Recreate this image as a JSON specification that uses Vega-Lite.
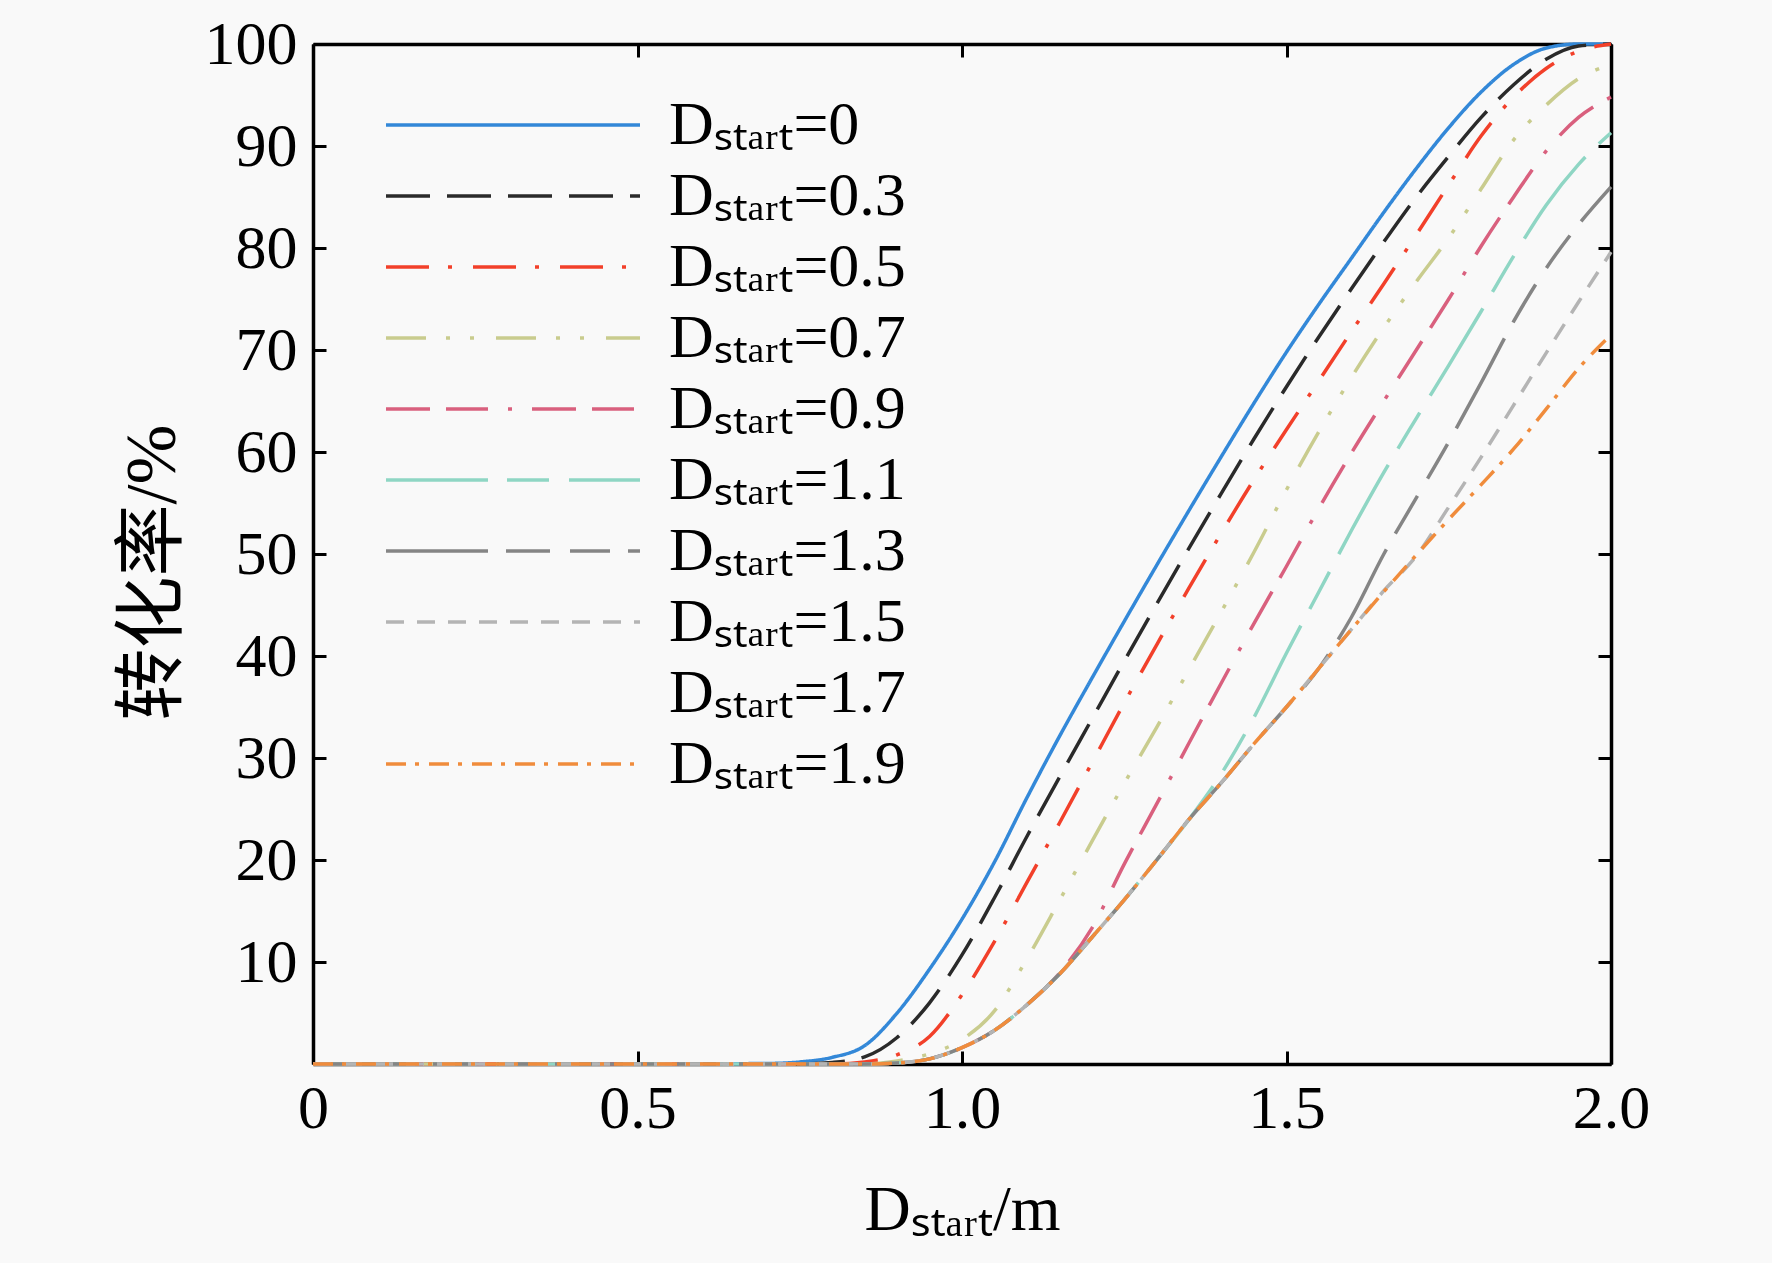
{
  "$schema": "https://vega.github.io/schema/vega-lite/v6.json",
  "width": 1298,
  "height": 1020,
  "autosize": {"type": "none"},
  "padding": {"left": 313, "top": 44, "right": 161, "bottom": 199},
  "background": "#f9f9f9",
  "config": {
    "view": {"stroke": null},
    "font": "Liberation Serif",
    "axis": {
      "grid": false, "domainColor": "#000", "domainWidth": 3.5,
      "tickColor": "#000", "tickWidth": 3, "tickSize": -13,
      "labelFont": "Liberation Serif", "labelFontSize": 62, "labelColor": "#000",
      "titleColor": "#000", "titleFontWeight": "normal"
    }
  },
  "data": {"values": [
    {"D":"0","x":0,"y":0},{"D":"0","x":0.5,"y":0},{"D":"0","x":0.7,"y":0.05},{"D":"0","x":0.75,"y":0.2},{"D":"0","x":0.8,"y":0.65},{"D":"0","x":0.85,"y":1.8},{"D":"0","x":0.9,"y":5},{"D":"0","x":0.95,"y":9.3},{"D":"0","x":1.0,"y":14.2},{"D":"0","x":1.05,"y":19.8},{"D":"0","x":1.1,"y":26.1},{"D":"0","x":1.15,"y":32.1},{"D":"0","x":1.2,"y":37.8},{"D":"0","x":1.25,"y":43.4},{"D":"0","x":1.3,"y":48.9},{"D":"0","x":1.35,"y":54.3},{"D":"0","x":1.4,"y":59.6},{"D":"0","x":1.45,"y":64.8},{"D":"0","x":1.5,"y":69.8},{"D":"0","x":1.55,"y":74.5},{"D":"0","x":1.6,"y":79},{"D":"0","x":1.65,"y":83.5},{"D":"0","x":1.7,"y":87.8},{"D":"0","x":1.75,"y":91.8},{"D":"0","x":1.8,"y":95.3},{"D":"0","x":1.85,"y":98},{"D":"0","x":1.9,"y":99.6},{"D":"0","x":1.95,"y":100},{"D":"0","x":2.0,"y":100},
    {"D":"0.3","x":0,"y":0},{"D":"0.3","x":0.5,"y":0},{"D":"0.3","x":0.75,"y":0},{"D":"0.3","x":0.8,"y":0.15},{"D":"0.3","x":0.85,"y":0.7},{"D":"0.3","x":0.9,"y":2.6},{"D":"0.3","x":0.95,"y":6},{"D":"0.3","x":1.0,"y":10.7},{"D":"0.3","x":1.05,"y":16.3},{"D":"0.3","x":1.1,"y":22.3},{"D":"0.3","x":1.15,"y":28.1},{"D":"0.3","x":1.2,"y":33.8},{"D":"0.3","x":1.25,"y":39.5},{"D":"0.3","x":1.3,"y":45.1},{"D":"0.3","x":1.35,"y":50.6},{"D":"0.3","x":1.4,"y":56},{"D":"0.3","x":1.45,"y":61.3},{"D":"0.3","x":1.5,"y":66.4},{"D":"0.3","x":1.55,"y":71.3},{"D":"0.3","x":1.6,"y":76},{"D":"0.3","x":1.65,"y":80.6},{"D":"0.3","x":1.7,"y":85},{"D":"0.3","x":1.75,"y":89},{"D":"0.3","x":1.8,"y":92.8},{"D":"0.3","x":1.85,"y":96},{"D":"0.3","x":1.9,"y":98.5},{"D":"0.3","x":1.95,"y":99.8},{"D":"0.3","x":2.0,"y":100},
    {"D":"0.5","x":0,"y":0},{"D":"0.5","x":0.5,"y":0},{"D":"0.5","x":0.8,"y":0},{"D":"0.5","x":0.85,"y":0.2},{"D":"0.5","x":0.9,"y":0.9},{"D":"0.5","x":0.95,"y":2.7},{"D":"0.5","x":1.0,"y":6.8},{"D":"0.5","x":1.05,"y":12},{"D":"0.5","x":1.1,"y":17.8},{"D":"0.5","x":1.15,"y":23.6},{"D":"0.5","x":1.2,"y":29.5},{"D":"0.5","x":1.25,"y":35.4},{"D":"0.5","x":1.3,"y":41.1},{"D":"0.5","x":1.35,"y":46.7},{"D":"0.5","x":1.4,"y":52.1},{"D":"0.5","x":1.45,"y":57.3},{"D":"0.5","x":1.5,"y":62.2},{"D":"0.5","x":1.55,"y":67},{"D":"0.5","x":1.6,"y":71.8},{"D":"0.5","x":1.65,"y":76.5},{"D":"0.5","x":1.7,"y":81.3},{"D":"0.5","x":1.75,"y":86.2},{"D":"0.5","x":1.8,"y":91},{"D":"0.5","x":1.85,"y":94.8},{"D":"0.5","x":1.9,"y":97.6},{"D":"0.5","x":1.95,"y":99.3},{"D":"0.5","x":2.0,"y":100},
    {"D":"0.7","x":0,"y":0},{"D":"0.7","x":0.5,"y":0},{"D":"0.7","x":0.85,"y":0},{"D":"0.7","x":0.9,"y":0.3},{"D":"0.7","x":0.95,"y":1.0},{"D":"0.7","x":1.0,"y":2.4},{"D":"0.7","x":1.05,"y":5.2},{"D":"0.7","x":1.1,"y":10.3},{"D":"0.7","x":1.15,"y":16},{"D":"0.7","x":1.2,"y":21.8},{"D":"0.7","x":1.25,"y":27.5},{"D":"0.7","x":1.3,"y":33},{"D":"0.7","x":1.35,"y":38.7},{"D":"0.7","x":1.4,"y":44.4},{"D":"0.7","x":1.45,"y":50.2},{"D":"0.7","x":1.5,"y":56.3},{"D":"0.7","x":1.55,"y":62},{"D":"0.7","x":1.6,"y":67.3},{"D":"0.7","x":1.65,"y":72.2},{"D":"0.7","x":1.7,"y":76.7},{"D":"0.7","x":1.75,"y":81},{"D":"0.7","x":1.8,"y":85.8},{"D":"0.7","x":1.85,"y":90.6},{"D":"0.7","x":1.9,"y":94},{"D":"0.7","x":1.95,"y":96.6},{"D":"0.7","x":2.0,"y":98},
    {"D":"0.9","x":0,"y":0},{"D":"0.9","x":0.5,"y":0},{"D":"0.9","x":0.85,"y":0},{"D":"0.9","x":0.9,"y":0.1},{"D":"0.9","x":0.95,"y":0.5},{"D":"0.9","x":1.0,"y":1.6},{"D":"0.9","x":1.05,"y":3.3},{"D":"0.9","x":1.1,"y":5.8},{"D":"0.9","x":1.15,"y":8.9},{"D":"0.9","x":1.2,"y":13.3},{"D":"0.9","x":1.25,"y":19.6},{"D":"0.9","x":1.3,"y":25.5},{"D":"0.9","x":1.35,"y":31.5},{"D":"0.9","x":1.4,"y":37.4},{"D":"0.9","x":1.45,"y":43.2},{"D":"0.9","x":1.5,"y":48.8},{"D":"0.9","x":1.55,"y":54.5},{"D":"0.9","x":1.6,"y":59.9},{"D":"0.9","x":1.65,"y":65},{"D":"0.9","x":1.7,"y":70},{"D":"0.9","x":1.75,"y":75},{"D":"0.9","x":1.8,"y":80.2},{"D":"0.9","x":1.85,"y":85},{"D":"0.9","x":1.9,"y":89.5},{"D":"0.9","x":1.95,"y":92.8},{"D":"0.9","x":2.0,"y":94.8},
    {"D":"1.1","x":0,"y":0},{"D":"1.1","x":0.5,"y":0},{"D":"1.1","x":0.85,"y":0},{"D":"1.1","x":0.9,"y":0.1},{"D":"1.1","x":0.95,"y":0.5},{"D":"1.1","x":1.0,"y":1.6},{"D":"1.1","x":1.05,"y":3.3},{"D":"1.1","x":1.1,"y":5.8},{"D":"1.1","x":1.15,"y":8.8},{"D":"1.1","x":1.2,"y":12.4},{"D":"1.1","x":1.25,"y":16.1},{"D":"1.1","x":1.3,"y":20},{"D":"1.1","x":1.35,"y":24},{"D":"1.1","x":1.4,"y":28.5},{"D":"1.1","x":1.45,"y":34},{"D":"1.1","x":1.5,"y":40.3},{"D":"1.1","x":1.55,"y":46.3},{"D":"1.1","x":1.6,"y":52.3},{"D":"1.1","x":1.65,"y":58},{"D":"1.1","x":1.7,"y":63.3},{"D":"1.1","x":1.75,"y":68.5},{"D":"1.1","x":1.8,"y":73.8},{"D":"1.1","x":1.85,"y":79.2},{"D":"1.1","x":1.9,"y":84.2},{"D":"1.1","x":1.95,"y":88.2},{"D":"1.1","x":2.0,"y":91.3},
    {"D":"1.3","x":0,"y":0},{"D":"1.3","x":0.5,"y":0},{"D":"1.3","x":0.85,"y":0},{"D":"1.3","x":0.9,"y":0.1},{"D":"1.3","x":0.95,"y":0.5},{"D":"1.3","x":1.0,"y":1.6},{"D":"1.3","x":1.05,"y":3.3},{"D":"1.3","x":1.1,"y":5.8},{"D":"1.3","x":1.15,"y":8.8},{"D":"1.3","x":1.2,"y":12.4},{"D":"1.3","x":1.25,"y":16.1},{"D":"1.3","x":1.3,"y":20},{"D":"1.3","x":1.35,"y":24},{"D":"1.3","x":1.4,"y":27.6},{"D":"1.3","x":1.45,"y":31.4},{"D":"1.3","x":1.5,"y":35},{"D":"1.3","x":1.55,"y":38.8},{"D":"1.3","x":1.6,"y":43.8},{"D":"1.3","x":1.65,"y":50},{"D":"1.3","x":1.7,"y":55.5},{"D":"1.3","x":1.75,"y":61},{"D":"1.3","x":1.8,"y":66.8},{"D":"1.3","x":1.85,"y":72.8},{"D":"1.3","x":1.9,"y":78},{"D":"1.3","x":1.95,"y":82.3},{"D":"1.3","x":2.0,"y":86},
    {"D":"1.5","x":0,"y":0},{"D":"1.5","x":0.5,"y":0},{"D":"1.5","x":0.85,"y":0},{"D":"1.5","x":0.9,"y":0.1},{"D":"1.5","x":0.95,"y":0.5},{"D":"1.5","x":1.0,"y":1.6},{"D":"1.5","x":1.05,"y":3.3},{"D":"1.5","x":1.1,"y":5.8},{"D":"1.5","x":1.15,"y":8.8},{"D":"1.5","x":1.2,"y":12.4},{"D":"1.5","x":1.25,"y":16.1},{"D":"1.5","x":1.3,"y":20},{"D":"1.5","x":1.35,"y":24},{"D":"1.5","x":1.4,"y":27.6},{"D":"1.5","x":1.45,"y":31.4},{"D":"1.5","x":1.5,"y":35},{"D":"1.5","x":1.55,"y":38.8},{"D":"1.5","x":1.6,"y":42.6},{"D":"1.5","x":1.65,"y":46.4},{"D":"1.5","x":1.7,"y":49.8},{"D":"1.5","x":1.75,"y":54.6},{"D":"1.5","x":1.8,"y":59.5},{"D":"1.5","x":1.85,"y":64.6},{"D":"1.5","x":1.9,"y":69.7},{"D":"1.5","x":1.95,"y":74.7},{"D":"1.5","x":2.0,"y":79.6},
    {"D":"1.9","x":0,"y":0},{"D":"1.9","x":0.5,"y":0},{"D":"1.9","x":0.85,"y":0},{"D":"1.9","x":0.9,"y":0.1},{"D":"1.9","x":0.95,"y":0.5},{"D":"1.9","x":1.0,"y":1.6},{"D":"1.9","x":1.05,"y":3.3},{"D":"1.9","x":1.1,"y":5.8},{"D":"1.9","x":1.15,"y":8.8},{"D":"1.9","x":1.2,"y":12.4},{"D":"1.9","x":1.25,"y":16.1},{"D":"1.9","x":1.3,"y":20},{"D":"1.9","x":1.35,"y":24},{"D":"1.9","x":1.4,"y":27.6},{"D":"1.9","x":1.45,"y":31.4},{"D":"1.9","x":1.5,"y":35},{"D":"1.9","x":1.55,"y":38.8},{"D":"1.9","x":1.6,"y":42.6},{"D":"1.9","x":1.65,"y":46.3},{"D":"1.9","x":1.7,"y":49.9},{"D":"1.9","x":1.75,"y":53.4},{"D":"1.9","x":1.8,"y":56.8},{"D":"1.9","x":1.85,"y":60.3},{"D":"1.9","x":1.9,"y":64.2},{"D":"1.9","x":1.95,"y":68.2},{"D":"1.9","x":2.0,"y":71.5}
  ]},
  "layer": [
    {
      "mark": {"type": "line", "strokeWidth": 3.5, "interpolate": "monotone"},
      "encoding": {
        "x": {
          "field": "x", "type": "quantitative",
          "scale": {"domain": [0, 2], "nice": false, "zero": false},
          "axis": {
            "orient": "bottom", "values": [0, 0.5, 1, 1.5, 2],
            "labelExpr": "datum.value === 0 ? '0' : format(datum.value, '.1f')",
            "labelPadding": 27, "labelFlush": false,
            "title": "Dₛₜₐᵣₜ/m", "titleFont": "Liberation Serif, Noto Sans, DejaVu Sans",
            "titleFontSize": 64, "titlePadding": 39
          }
        },
        "y": {
          "field": "y", "type": "quantitative",
          "scale": {"domain": [0, 100], "nice": false},
          "axis": {
            "orient": "left", "values": [0, 10, 20, 30, 40, 50, 60, 70, 80, 90, 100],
            "labelExpr": "datum.value === 0 ? '' : datum.label",
            "labelPadding": 29, "labelFlush": false,
            "title": "转化率/%", "titleFont": "Liberation Serif, Noto Sans CJK SC",
            "titleFontSize": 72, "titlePadding": 15, "titleY": 528
          }
        },
        "color": {
          "field": "D", "type": "nominal",
          "scale": {
            "domain": ["0", "0.3", "0.5", "0.7", "0.9", "1.1", "1.3", "1.5", "1.7", "1.9"],
            "range": ["#3388d8", "#2a2a2a", "#f2402a", "#c9cc8e", "#d9607e", "#8fd6c4", "#858585", "#b4b4b4", "transparent", "#f08c3c"]
          },
          "legend": {
            "orient": "none", "legendX": 71, "legendY": 56, "title": null, "padding": 0,
            "symbolType": "stroke", "symbolSize": 64516, "symbolStrokeWidth": 3.5,
            "clipHeight": 50, "rowPadding": 9, "labelOffset": 27, "labelLimit": 500,
            "labelFont": "Liberation Serif, Noto Sans, DejaVu Sans", "labelFontSize": 62, "labelColor": "#000",
            "labelExpr": "'Dₛₜₐᵣₜ=' + datum.label"
          }
        },
        "strokeDash": {
          "field": "D", "type": "nominal",
          "scale": {
            "domain": ["0", "0.3", "0.5", "0.7", "0.9", "1.1", "1.3", "1.5", "1.7", "1.9"],
            "range": [[1, 0], [44, 17], [43, 19, 4, 21], [40, 20, 4, 20, 4, 22], [44, 16, 42, 20, 4, 20], [102, 19, 42, 20], [102, 18, 44, 20, 40, 18], [18, 13], [1, 0], [20, 9, 4, 10]]
          },
          "legend": {
            "orient": "none", "legendX": 71, "legendY": 56, "title": null, "padding": 0,
            "symbolType": "stroke", "symbolSize": 64516, "symbolStrokeWidth": 3.5,
            "clipHeight": 50, "rowPadding": 9, "labelOffset": 27, "labelLimit": 500,
            "labelFont": "Liberation Serif, Noto Sans, DejaVu Sans", "labelFontSize": 62, "labelColor": "#000",
            "labelExpr": "'Dₛₜₐᵣₜ=' + datum.label"
          }
        }
      }
    },
    {
      "mark": {"type": "line", "opacity": 0},
      "encoding": {
        "x": {"field": "x", "type": "quantitative", "axis": {"orient": "top", "values": [0, 0.5, 1, 1.5, 2], "labels": false, "title": null}},
        "y": {"field": "y", "type": "quantitative", "axis": {"orient": "right", "values": [0, 10, 20, 30, 40, 50, 60, 70, 80, 90, 100], "labels": false, "title": null}},
        "detail": {"field": "D"}
      }
    }
  ],
  "resolve": {"axis": {"x": "independent", "y": "independent"}}
}
